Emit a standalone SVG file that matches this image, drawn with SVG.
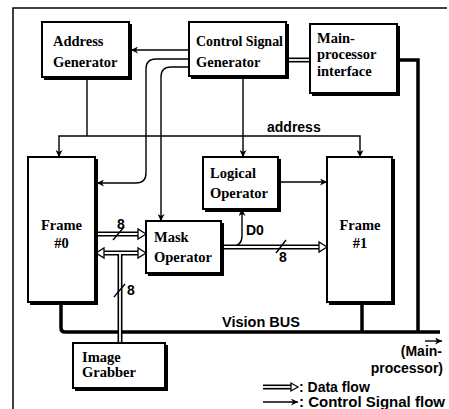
<svg xmlns="http://www.w3.org/2000/svg" width="449" height="409" viewBox="0 0 449 409">
<style>
.box{fill:#fff;stroke:#000;stroke-width:2}
.sh{fill:none;stroke:#000;stroke-width:2}
.bt{font-family:"Liberation Serif",serif;font-weight:bold;font-size:14.5px;fill:#000}
.st{font-family:"Liberation Sans",Arial,sans-serif;font-weight:bold;font-size:14px;fill:#000}
.ctl{fill:none;stroke:#000;stroke-width:1.4}
.dblo{fill:none;stroke:#000;stroke-width:5}
.dbli{fill:none;stroke:#fff;stroke-width:1.8}
.head{fill:#fff;stroke:#000;stroke-width:1.3;stroke-linejoin:miter}
.thick{fill:none;stroke:#000;stroke-width:3.5}
</style>
<defs>
<marker id="arr" viewBox="0 0 10 10" refX="10" refY="5" markerWidth="7" markerHeight="7" markerUnits="userSpaceOnUse" orient="auto">
<path d="M0,0 L10,5 L0,10 L3,5 Z" fill="#000"/>
</marker>
</defs>
<rect width="449" height="409" fill="#fff"/>
<path d="M13,409 V8 H447" fill="none" stroke="#000" stroke-width="1.5"/>

<g id="connectors">
<!-- bus -->
<path class="thick" d="M61,302 V328 Q61,332 65,332 H440"/>
<path class="thick" d="M397,60 H418 V332" stroke-width="4"/>
<path class="thick" d="M362,302 V332"/>
<!-- CSG to MPI double -->
<path class="dblo" d="M288,60 H310"/>
<path class="dbli" d="M288,60 H310"/>
<!-- control -->
<path class="ctl" d="M189,50 H131" marker-end="url(#arr)"/>
<path class="ctl" d="M189,59 H156 Q146,59 146,69 V173 Q146,183 136,183 H97" marker-end="url(#arr)"/>
<path class="ctl" d="M189,67 H171 Q161,67 161,77 V221" marker-end="url(#arr)"/>
<path class="ctl" d="M243,76 V157" marker-end="url(#arr)"/>
<path class="ctl" d="M87,78 V136" stroke-width="1.8"/>
<path class="ctl" d="M87,136 H59 V157" stroke-width="1.8" marker-end="url(#arr)"/>
<path class="ctl" d="M87,136 H360 V157" stroke-width="1.8" marker-end="url(#arr)"/>
<path class="ctl" d="M278,182 H327" marker-end="url(#arr)"/>
<path class="ctl" d="M231,247 Q242,246 242,236 V209" marker-end="url(#arr)"/>
<!-- data: Frame0 -> Mask -->
<path class="dblo" d="M96,234 H139"/>
<path class="dbli" d="M96,234 H140"/>
<polygon class="head" points="146,234 138,229 138,239"/>
<path class="ctl" d="M113,240 L124,227" stroke-width="1.2"/>
<!-- data: bidirectional -->
<path class="dblo" d="M103,253 H139"/>
<path class="dblo" d="M120,253 V343"/>
<path class="dbli" d="M102,253 H140"/>
<path class="dbli" d="M120,253 V343"/>
<polygon class="head" points="146,253 138,248 138,258"/>
<polygon class="head" points="96,253 104,248 104,258"/>
<path class="ctl" d="M114,297 L125,284" stroke-width="1.2"/>
<!-- data: Mask -> Frame1 -->
<path class="dblo" d="M221,247 H320"/>
<path class="dbli" d="M220,247 H321"/>
<polygon class="head" points="327,247 319,242 319,252"/>
<path class="ctl" d="M276,253 L286,240" stroke-width="1.2"/>
</g>

<g id="address-generator">
<rect class="box" x="42" y="22" width="87" height="55"/>
<path class="sh" d="M131,24 V79 H44"/>
<text class="bt" x="53" y="46">Address</text>
<text class="bt" x="53" y="67">Generator</text>
</g>
<g id="control-signal-generator">
<rect class="box" x="189" y="22" width="97" height="54"/>
<path class="sh" d="M288,24 V78 H191"/>
<text class="bt" x="196" y="46" textLength="87" lengthAdjust="spacingAndGlyphs">Control Signal</text>
<text class="bt" x="196" y="67">Generator</text>
</g>
<g id="main-processor-interface">
<rect class="box" x="310" y="24" width="87" height="69"/>
<path class="sh" d="M399,26 V95 H312"/>
<text class="bt" x="317" y="43">Main-</text>
<text class="bt" x="317" y="59">processor</text>
<text class="bt" x="317" y="76">interface</text>
</g>
<g id="frame0">
<rect class="box" x="28" y="157" width="67" height="145"/>
<path class="sh" d="M97,159 V304 H30"/>
<text class="bt" x="61.5" y="230" text-anchor="middle">Frame</text>
<text class="bt" x="61.5" y="248" text-anchor="middle">#0</text>
</g>
<g id="frame1">
<rect class="box" x="327" y="157" width="65" height="145"/>
<path class="sh" d="M394,159 V304 H329"/>
<text class="bt" x="360" y="230" text-anchor="middle">Frame</text>
<text class="bt" x="360" y="248" text-anchor="middle">#1</text>
</g>
<g id="logical-operator">
<rect class="box" x="203" y="157" width="75" height="52"/>
<path class="sh" d="M280,159 V211 H205"/>
<text class="bt" x="210" y="178">Logical</text>
<text class="bt" x="210" y="198">Operator</text>
</g>
<g id="mask-operator">
<rect class="box" x="146" y="221" width="75" height="52"/>
<path class="sh" d="M223,223 V275 H148"/>
<text class="bt" x="154" y="242">Mask</text>
<text class="bt" x="154" y="262">Operator</text>
</g>
<g id="image-grabber">
<rect class="box" x="73" y="343" width="92" height="45"/>
<path class="sh" d="M167,345 V390 H75"/>
<text class="bt" x="82" y="362">Image</text>
<text class="bt" x="82" y="377">Grabber</text>
</g>

<g id="labels">
<text class="st" x="267" y="132">address</text>
<text class="st" x="246" y="235">D0</text>
<text class="st" x="117" y="229" font-size="12">8</text>
<text class="st" x="127" y="295" font-size="12">8</text>
<text class="st" x="279" y="262" font-size="12">8</text>
<text class="st" x="222" y="327" textLength="78" lengthAdjust="spacingAndGlyphs">Vision BUS</text>
<path class="ctl" d="M425,341 H442" marker-end="url(#arr)"/>
<text class="st" x="442" y="356" font-size="12" text-anchor="end">(Main-</text>
<text class="st" x="443" y="373" font-size="12" text-anchor="end">processor)</text>
</g>

<g id="legend">
<path class="dblo" d="M263,387 H292" stroke-width="4.5"/>
<path class="dbli" d="M262,387 H293" stroke-width="1.6"/>
<polygon class="head" points="298,387 291,383 291,391"/>
<text class="st" x="299" y="392">: Data flow</text>
<path class="ctl" d="M263,402 H298" marker-end="url(#arr)"/>
<text class="st" x="299" y="407" textLength="146" lengthAdjust="spacingAndGlyphs">: Control Signal flow</text>
</g>
</svg>
